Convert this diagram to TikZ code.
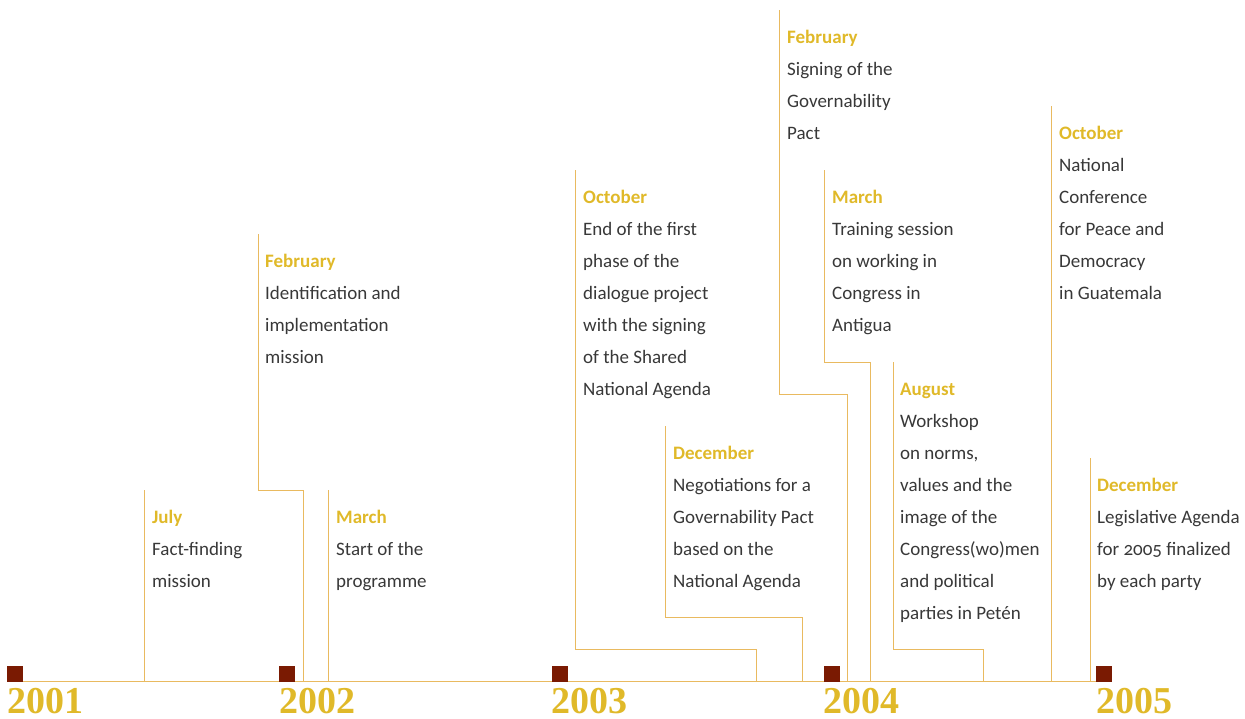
\documentclass[tikz,border=0pt]{standalone}
\usepackage{fontspec}
\setmainfont{Carlito}[Numbers=OldStyle]
\newfontfamily\yearfont{Liberation Serif}
\usepackage{xcolor}
\usetikzlibrary{positioning}

\definecolor{gold}{HTML}{E0B929}
\definecolor{rulegold}{HTML}{E9BA60}
\definecolor{tickred}{HTML}{7A1A02}
\definecolor{ink}{HTML}{383838}
\newcommand{\monthlbl}[1]{\strut{\color{gold}\bfseries #1}}

\tikzset{
	rule/.style = {draw=rulegold, line width=1pt},
	event/.style = {anchor=north west, inner sep=0pt, align=left, text=ink,
		font=\fontsize{19}{32}\selectfont},
	year/.style = {anchor=base west, inner sep=0pt, text=gold,
		font=\yearfont\bfseries\fontsize{38}{38}\selectfont}
}

\begin{document}
\begin{tikzpicture}[x=1pt, y=-1pt]
	\useasboundingbox (0,0) rectangle (1245,718);
	% axis and years
	\coordinate (base) at (7,681.5);
	\draw[rule] (base) -- (1104,681.5);
	\foreach \yr [count=\i from 0] in {2001,2002,2003,2004,2005} {
		\fill[tickred] (7+272.25*\i,666) rectangle ++(16,16);
		\node[year] (y\yr) at (7+272.25*\i,713) {\yr};
	}
	% line tops and bends
	\coordinate (jul01t) at (144,490);
	\coordinate (feb02t) at (258,234);
	\coordinate (feb02b) at (303,490);
	\coordinate (mar02t) at (328,490);
	\coordinate (oct03t) at (575,170);
	\coordinate (oct03b) at (756,649);
	\coordinate (dec03t) at (665,426);
	\coordinate (dec03b) at (802,617);
	\coordinate (feb04t) at (779,10);
	\coordinate (feb04b) at (847,394);
	\coordinate (mar04t) at (824,170);
	\coordinate (mar04b) at (870,362);
	\coordinate (aug04t) at (893,362);
	\coordinate (aug04b) at (983,649);
	\coordinate (oct04t) at (1051,106);
	\coordinate (dec04t) at (1090,458);
	% events (first baseline 33 below the line top)
	\node[event] (jul01) at (152,500.6) {\monthlbl{July}\\Fact-finding\\mission};
	\node[event] (feb02) at (265,244.6) {\monthlbl{February}\\Identification and\\implementation\\mission};
	\node[event] (mar02) at (336,500.6) {\monthlbl{March}\\Start of the\\programme};
	\node[event] (oct03) at (583,180.6) {\monthlbl{October}\\End of the first\\phase of the\\dialogue project\\with the signing\\of the Shared\\National Agenda};
	\node[event] (dec03) at (673,436.6) {\monthlbl{December}\\Negotiations for a\\Governability Pact\\based on the\\National Agenda};
	\node[event] (feb04) at (787,20.6) {\monthlbl{February}\\Signing of the\\Governability\\Pact};
	\node[event] (mar04) at (832,180.6) {\monthlbl{March}\\Training session\\on working in\\Congress in\\Antigua};
	\node[event] (aug04) at (900,372.6) {\monthlbl{August}\\Workshop\\on norms,\\values and the\\image of the\\Congress(wo)men\\and political\\parties in Petén};
	\node[event] (oct04) at (1059,116.6) {\monthlbl{October}\\National\\Conference\\for Peace and\\Democracy\\in Guatemala};
	\node[event] (dec04) at (1097,468.6) {\monthlbl{December}\\Legislative Agenda\\for 2005 finalized\\by each party};
	% connectors
	\draw[rule] (jul01t) -- (jul01t |- base);
	\draw[rule] (feb02t) |- (feb02b) -- (feb02b |- base);
	\draw[rule] (mar02t) -- (mar02t |- base);
	\draw[rule] (oct03t) |- (oct03b) -- (oct03b |- base);
	\draw[rule] (dec03t) |- (dec03b) -- (dec03b |- base);
	\draw[rule] (feb04t) |- (feb04b) -- (feb04b |- base);
	\draw[rule] (mar04t) |- (mar04b) -- (mar04b |- base);
	\draw[rule] (aug04t) |- (aug04b) -- (aug04b |- base);
	\draw[rule] (oct04t) -- (oct04t |- base);
	\draw[rule] (dec04t) -- (dec04t |- base);
\end{tikzpicture}
\end{document}
